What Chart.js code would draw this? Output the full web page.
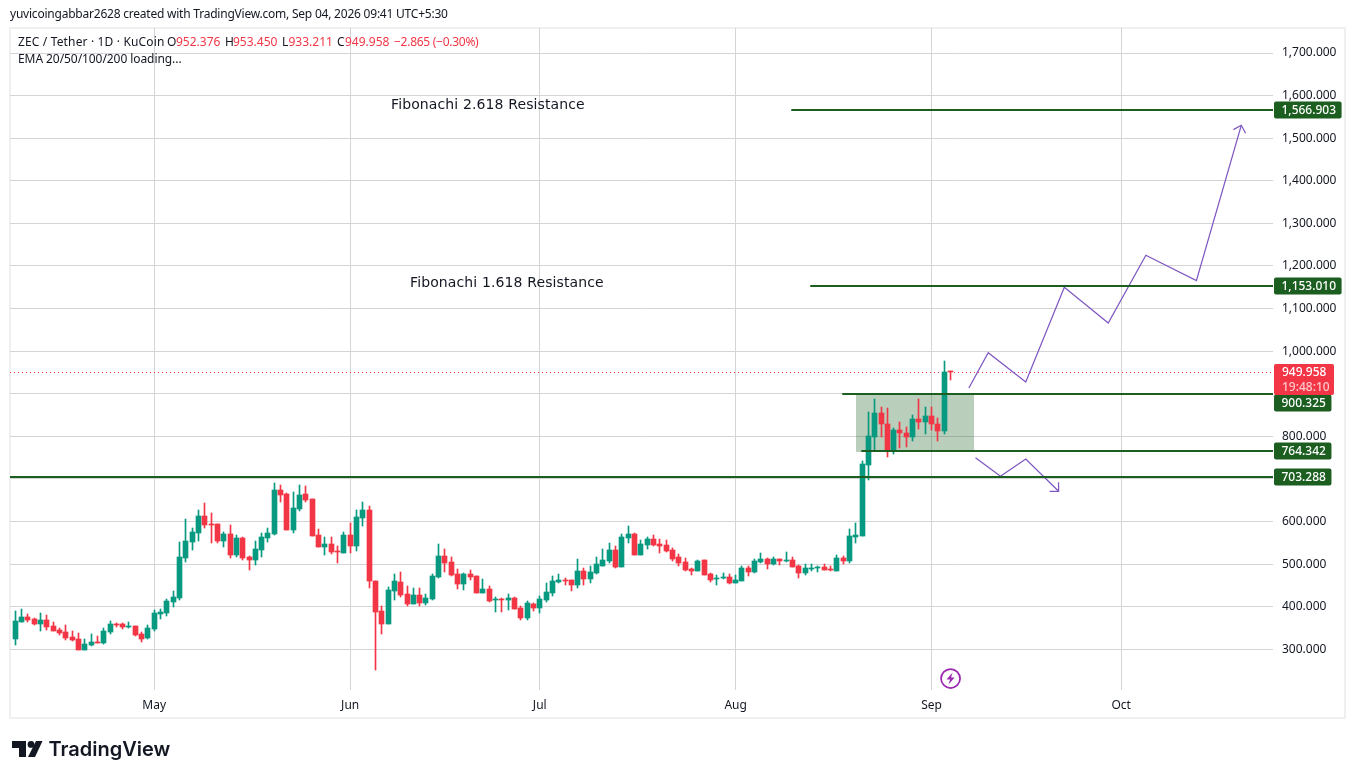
<!DOCTYPE html>
<html>
<head>
<meta charset="utf-8">
<style>
html,body{margin:0;padding:0;background:#fff;overflow:hidden}
canvas{display:block}
</style>
<script src="https://cdn.jsdelivr.net/npm/chart.js@4/dist/chart.umd.js"></script>
</head>
<body>
<canvas id="c" width="1355" height="779"></canvas>
<script>
// Daily candles, starting 9 Apr; index = days since then
const opens = [
323,364,376,371,359,369,355,345,341,329,
324,298,310,317,315,341,359,359,352,355,
336,327,348,383,385,411,420,514,552,573,
612,594,594,554,570,521,561,516,509,533,
561,570,673,664,580,629,664,652,568,540,
547,530,526,568,542,608,627,460,390,359,
437,458,430,406,427,409,418,469,519,505,
477,453,477,472,432,441,416,418,416,420,
397,373,406,397,416,432,458,462,462,451,
484,465,479,495,507,533,493,561,570,521,
545,559,547,545,533,516,505,488,484,509,
477,465,467,470,455,460,491,481,505,512,
500,512,507,509,495,479,488,491,493,488,
484,514,507,563,566,732,798,854,830,765,
816,809,798,840,833,847,830,812,952.376];
const highs = [
390,394,383,373,385,380,364,350,357,343,
338,324,336,331,350,366,362,362,364,355,
341,357,392,394,418,437,552,605,584,627,
643,620,594,575,591,568,563,519,554,573,
584,690,685,666,669,685,683,652,582,563,
563,542,575,596,627,645,636,460,402,446,
477,481,448,444,444,430,477,547,535,516,
488,479,486,472,465,448,423,420,430,423,
402,413,409,425,455,472,477,467,462,512,
491,495,516,535,549,542,570,589,573,556,
563,568,559,556,537,523,514,491,509,509,
479,474,479,477,474,495,495,512,526,514,
516,512,528,516,498,500,500,495,500,495,
521,519,582,596,741,856,887,870,866,819,
833,823,849,887,870,870,842,978,953.45];
const lows = [
309,364,364,357,343,345,343,334,322,320,
298,298,308,315,312,336,352,348,350,331,
317,324,343,371,378,399,416,505,533,554,
584,549,549,540,514,516,509,486,498,516,
552,568,645,580,573,624,645,566,540,521,
523,502,526,526,530,589,444,252,336,359,
416,423,402,406,402,404,416,467,481,472,
441,439,463,432,432,411,388,388,392,395,
369,369,390,385,411,425,455,451,437,444,
451,455,477,495,502,491,493,549,521,521,
535,542,526,528,507,495,484,474,484,474,
458,451,465,453,455,460,472,479,502,488,
498,498,505,493,467,474,484,481,486,484,
484,500,502,549,566,697,765,798,751,758,
772,774,788,818,805,816,788,805,933.211];
const closes = [
366,376,369,359,369,352,343,338,327,322,
298,312,317,315,343,359,357,352,355,334,
324,350,385,387,413,423,516,554,575,612,
591,591,554,570,521,561,514,509,535,563,
573,673,662,580,631,662,650,566,540,547,
528,528,568,542,610,627,460,387,359,439,
460,427,406,427,409,420,472,519,502,474,
453,477,470,432,441,413,418,416,420,395,
373,409,397,418,434,460,462,460,451,484,
465,481,500,509,533,493,563,570,521,547,
559,545,542,530,512,502,486,484,507,474,
462,467,470,455,462,491,481,507,512,500,
512,507,509,493,479,491,491,493,486,486,
514,507,566,568,734,800,854,828,765,816,
807,798,840,833,847,828,812,952,949.958];

const monthTicks = [22,53,83,114,145,175];
const monthLabels = ['May','Jun','Jul','Aug','Sep','Oct'];
const priceTicks = [300,400,500,600,700,800,900,1000,1100,1200,1300,1400,1500,1600,1700];
const hiddenPriceLabels = [700,900];

const levelPrices = [1566.903,1153.01,900.325,764.342,703.288];
const levelStarts = [122.8,125.8,130.86,133.87,-0.83];
const lastPrice = 949.958;

const zoneX = [133.04,151.75];
const zoneTop = 897.1;
const zoneBottom = 763.3;

const upPathX = [150.9,153.96,159.9,166,172.95,178.9,186.9,194];
const upPathY = [913.5,996.4,927.6,1150,1066.1,1225.1,1165.5,1530.3];
const downPathX = [151.95,155.9,159.9,165.1];
const downPathY = [749.9,706.2,746.8,671];

const X_MIN = -0.823, X_MAX = 199.02, Y_MIN = 204.4, Y_MAX = 1758.8;
const GREEN='#089981', RED='#f23645', LEVEL='#1b5e20', PURPLE='#7e57c2', INK='#131722';
const FONT='"Noto Sans"';

const idx = opens.map((_,i)=>i);
const colorOf = i => closes[i]>=opens[i] ? GREEN : RED;
const bodyData = idx.map(i=>({x:i,y:[Math.min(opens[i],closes[i]),Math.max(opens[i],closes[i])]}));
const wickData = idx.map(i=>({x:i,y:[lows[i],highs[i]]}));
const pts = (xs,ys)=>xs.map((x,i)=>({x,y:ys[i]}));
const lineBase = {type:'line',pointRadius:0,tension:0,fill:false};
const snapLevel = y => Math.round(y-0.1);

const datasets = [
  ...levelPrices.map((p,i)=>({...lineBase,order:0,snap:'even',data:[{x:levelStarts[i],y:p},{x:X_MAX,y:p}],borderColor:LEVEL,borderWidth:2})),
  {...lineBase,order:0,data:pts(upPathX,upPathY),borderColor:PURPLE,borderWidth:1.25},
  {...lineBase,order:0,data:pts(downPathX,downPathY),borderColor:PURPLE,borderWidth:1.25},
  {order:1,data:bodyData,backgroundColor:idx.map(colorOf),barThickness:5,minBarLength:1,grouped:false},
  {order:2,data:wickData,backgroundColor:idx.map(colorOf),barThickness:1,grouped:false},
  {...lineBase,order:3,snap:'odd',data:[{x:X_MIN,y:lastPrice},{x:X_MAX,y:lastPrice}],borderColor:RED,borderWidth:1,borderDash:[1,3]},
  {...lineBase,order:4,data:[{x:zoneX[0],y:zoneTop},{x:zoneX[1],y:zoneTop}],borderWidth:0,borderColor:'transparent',
    fill:{value:zoneBottom},backgroundColor:'rgba(27,94,32,0.3)'}
];

function arrowHead(ctx,xs,ys,sx,sy){
  const n=xs.length, x1=sx.getPixelForValue(xs[n-1]), y1=sy.getPixelForValue(ys[n-1]);
  const x0=sx.getPixelForValue(xs[n-2]), y0=sy.getPixelForValue(ys[n-2]);
  const a=Math.atan2(y1-y0,x1-x0), L=9, d=Math.PI/4;
  ctx.save();ctx.strokeStyle=PURPLE;ctx.lineWidth=1.25;ctx.beginPath();
  ctx.moveTo(x1-L*Math.cos(a-d),y1-L*Math.sin(a-d));ctx.lineTo(x1,y1);
  ctx.lineTo(x1-L*Math.cos(a+d),y1-L*Math.sin(a+d));ctx.stroke();ctx.restore();
}
function txt(ctx,s,x,y,color,font,spacing){
  ctx.fillStyle=color;ctx.font=font;ctx.textAlign='left';ctx.textBaseline='middle';
  ctx.letterSpacing=(spacing||0)+'px';ctx.fillText(s,x,y);ctx.letterSpacing='0px';
}
function roundBox(ctx,x,y,w,h,r,c){ctx.fillStyle=c;ctx.beginPath();ctx.roundRect(x,y,w,h,r);ctx.fill();}

const snapMarks = {id:'snapMarks',afterDatasetsUpdate(chart){
  chart.getSortedVisibleDatasetMetas().forEach(m=>{
    if(m.type==='bar'){
      m.data.forEach(el=>{
        el.x=Math.floor(el.x)+0.5;
        el.y=Math.round(el.y);el.base=Math.round(el.base);
        if(el.y===el.base)el.y-=1;
      });
    } else {
      const mode=chart.data.datasets[m.index].snap;
      if(mode) m.data.forEach(p=>{p.y=mode==='even'?snapLevel(p.y):Math.floor(p.y)+0.5;});
    }
  });
}};
const frame = {id:'frame',beforeDraw(chart){
  const c=chart.ctx;c.save();c.fillStyle='#fff';c.fillRect(0,0,1355,779);
  c.strokeStyle='#f0f0f0';c.lineWidth=2;c.strokeRect(10,28,1335,690);c.restore();
}};
const overlay = {id:'overlay',afterDraw(chart){
  const c=chart.ctx,sx=chart.scales.x,sy=chart.scales.y;
  c.save();
  // top caption
  txt(c,'yuvicoingabbar2628 created with TradingView.com, Sep 04, 2026 09:41 UTC+5:30',10,14.5,INK,'12px '+FONT,-0.22);
  // legend
  const f='12px '+FONT;
  txt(c,'ZEC / Tether · 1D · KuCoin',18,43,INK,f,0.15);
  [['O',167],['H',225],['L',282],['C',337]].forEach(a=>txt(c,a[0],a[1],43,INK,f));
  [['952.376',176],['953.450',233],['933.211',288.5],['949.958',345]].forEach(a=>txt(c,a[0],a[1],43,RED,f));
  txt(c,'−2.865 (−0.30%)',394,43,RED,f,-0.27);
  txt(c,'EMA 20/50/100/200 loading...',18,59.5,INK,f,-0.07);
  // drawing notes
  const nf='14px "DejaVu Sans"';
  txt(c,'Fibonachi 2.618 Resistance',sx.getPixelForValue(59.46),sy.getPixelForValue(1576.8),INK,nf,0.12);
  txt(c,'Fibonachi 1.618 Resistance',sx.getPixelForValue(62.47),sy.getPixelForValue(1158.9),INK,nf,0.12);
  // arrowheads
  arrowHead(c,upPathX,upPathY,sx,sy);
  arrowHead(c,downPathX,downPathY,sx,sy);
  // price tags
  const tf='500 12px '+FONT;
  levelPrices.forEach(p=>{
    const nudge = p===900.325 ? 9 : 0;
    const y=snapLevel(sy.getPixelForValue(p))+nudge;
    const s=p.toLocaleString('en-US',{minimumFractionDigits:3,maximumFractionDigits:3});
    c.font=tf;const w=c.measureText(s).width;
    roundBox(c,1274,y-8.5,w+13,17,2,LEVEL);
    txt(c,s,1281.5,y+0.5,'#fff',tf);
  });
  const ly=Math.round(sy.getPixelForValue(lastPrice));
  roundBox(c,1274,ly-8,60,31,2,RED);
  txt(c,'949.958',1282,ly+0.5,'#fff',tf);
  txt(c,'19:48:10',1282,ly+15.5,'rgba(255,255,255,0.72)',tf);
  // bolt badge
  const bx=sx.getPixelForValue(148),by=678.5;
  c.strokeStyle='#9c27b0';c.lineWidth=1.75;c.beginPath();c.arc(bx,by,9.5,0,Math.PI*2);c.stroke();
  c.fillStyle='#9c27b0';c.beginPath();
  [[2,-6],[-4,1],[-0.5,1],[-2,6],[4,-1],[0.5,-1]].forEach((q,i)=>i?c.lineTo(bx+q[0],by+q[1]):c.moveTo(bx+q[0],by+q[1]));
  c.closePath();c.fill();
  // logo
  c.fillStyle=INK;
  c.beginPath();[[12,741],[26,741],[26,757],[19,757],[19,748],[12,748]].forEach((q,i)=>i?c.lineTo(q[0],q[1]):c.moveTo(q[0],q[1]));c.closePath();c.fill();
  c.beginPath();c.arc(31,744.4,3.4,0,Math.PI*2);c.fill();
  c.beginPath();[[36,741],[42.5,741],[35,757],[28,757]].forEach((q,i)=>i?c.lineTo(q[0],q[1]):c.moveTo(q[0],q[1]));c.closePath();c.fill();
  txt(c,'TradingView',48.5,749.5,INK,'600 20px Inter');
  c.restore();
}};

new Chart(document.getElementById('c'),{
  type:'bar',
  data:{datasets},
  plugins:[frame,snapMarks,overlay],
  options:{
    responsive:false,animation:false,
    layout:{padding:{left:10,top:28,right:10,bottom:61}},
    plugins:{legend:{display:false},tooltip:{enabled:false},title:{display:false}},
    scales:{
      x:{type:'linear',offset:false,min:X_MIN,max:X_MAX,
        grid:{offset:false,color:'#d4d4d6',lineWidth:1,drawTicks:false},border:{display:false},
        afterBuildTicks(s){s.ticks=monthTicks.map(v=>({value:v}));},
        afterFit(s){s.height=28;},
        ticks:{autoSkip:false,maxRotation:0,padding:8,color:INK,font:{family:'"Noto Sans"',size:12},
          callback:v=>monthLabels[monthTicks.indexOf(v)]||''}},
      y:{type:'linear',position:'right',min:Y_MIN,max:Y_MAX,
        grid:{color:'#d4d4d6',lineWidth:1,drawTicks:false},border:{display:false},
        afterBuildTicks(s){s.ticks=priceTicks.map(v=>({value:v}));},
        afterFit(s){s.width=72;},
        ticks:{autoSkip:false,padding:9,color:INK,crossAlign:'near',font:{family:'"Noto Sans"',size:12},
          callback:v=>hiddenPriceLabels.includes(v)?'':v.toLocaleString('en-US',{minimumFractionDigits:3})}}
    }
  }
});
</script>
</body>
</html>
